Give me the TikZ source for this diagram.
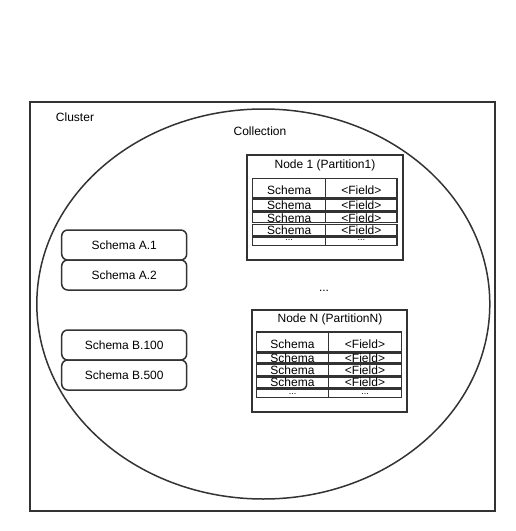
\documentclass[tikz,border=0pt]{standalone}
\usepackage{fontspec}
\setmainfont{Liberation Sans}
\usepackage{tikz}
\usetikzlibrary{shapes,calc}

\begin{document}
\begin{tikzpicture}[x=1pt,y=-1pt]
\tikzstyle{main}=[rectangle, draw=black!80, line width=1.5pt, inner sep=0pt, font=\fontsize{12}{14}\selectfont]
\tikzstyle{rect}=[main, minimum width=125pt, minimum height=30pt, rounded corners=6pt, node distance=30pt]
\tikzstyle{box}=[main, line width=2pt]
\tikzstyle{cell}=[main, line width=1.1pt, text depth=0pt]
\tikzstyle{dotcell}=[cell, font=\fontsize{9}{10}\selectfont]
\tikzstyle{plain}=[inner sep=0pt, font=\fontsize{12}{14}\selectfont]

\useasboundingbox (0,0) rectangle (515,531);

  \node[box, minimum width=465pt, minimum height=409.5pt] (cluster) at (262.5,306.25) {};
  \node[plain] (clustertxt) at (75,117) {Cluster};

  \node[main, ellipse, minimum width=453pt, minimum height=390pt] (coll) at (263.3,304) {};
  \node[plain] (colltxt) at (260,131) {Collection};

  \node[rect] (schemaA1) at (124.2,245)      {Schema A.1};
  \node[rect] (schemaA2) [below of=schemaA1] {Schema A.2};
  \node[rect] (schemaB1) at (124.2,345)      {Schema B.100};
  \node[rect] (schemaB2) [below of=schemaB1] {Schema B.500};

  % node 1
  \node[box, minimum width=156pt, minimum height=105pt] (nodeone) at (325,207.5) {};
  \node[plain] (titleone) at (325,165.5) {Node 1 (Partition1)};

  \node[cell, minimum width=73pt, minimum height=19.3pt, text height=11.9pt]    (s11) at (289.2,188.35)  {Schema};
  \node[cell, minimum width=71.3pt, minimum height=19.3pt, text height=11.9pt]  (f11) at (361.35,188.35) {<Field>};
  \node[cell, minimum width=73pt, minimum height=11.7pt, text height=8.3pt]     (s12) at (289.2,205.15)  {Schema};
  \node[cell, minimum width=71.3pt, minimum height=11.7pt, text height=8.3pt]   (f12) at (361.35,205.15) {<Field>};
  \node[cell, minimum width=73pt, minimum height=10pt, text height=10pt]        (s13) at (289.2,217.7)   {Schema};
  \node[cell, minimum width=71.3pt, minimum height=10pt, text height=10pt]      (f13) at (361.35,217.7)  {<Field>};
  \node[cell, minimum width=73pt, minimum height=10.6pt, text height=8.6pt]     (s14) at (289.2,230)     {Schema};
  \node[cell, minimum width=71.3pt, minimum height=10.6pt, text height=8.6pt]   (f14) at (361.35,230)    {<Field>};
  \node[dotcell, minimum width=73pt, minimum height=8.3pt, text height=0pt, text depth=2pt]   (s15) at (289.2,241.15)  {...};
  \node[dotcell, minimum width=71.3pt, minimum height=8.3pt, text height=0pt, text depth=2pt] (f15) at (361.35,241.15) {...};

  \node[plain] (gap) at (324,291) {...};

  % node N
  \node[box, minimum width=155pt, minimum height=101.7pt] (nodeN) at (329.2,360.85) {};
  \node[plain] (titleN) at (330,319.5) {Node N (PartitionN)};

  \node[cell, minimum width=71.6pt, minimum height=19.3pt, text height=12.7pt] (sN1) at (292.5,341.65) {Schema};
  \node[cell, minimum width=73.4pt, minimum height=19.3pt, text height=12.7pt] (fN1) at (365,341.65)   {<Field>};
  \node[cell, minimum width=71.6pt, minimum height=10pt, text height=9pt]      (sN2) at (292.5,358)    {Schema};
  \node[cell, minimum width=73.4pt, minimum height=10pt, text height=9pt]      (fN2) at (365,358)      {<Field>};
  \node[cell, minimum width=71.6pt, minimum height=11pt, text height=8.6pt]    (sN3) at (292.5,370.2)  {Schema};
  \node[cell, minimum width=73.4pt, minimum height=11pt, text height=8.6pt]    (fN3) at (365,370.2)    {<Field>};
  \node[cell, minimum width=71.6pt, minimum height=10.3pt, text height=8.3pt]  (sN4) at (292.5,382.15) {Schema};
  \node[cell, minimum width=73.4pt, minimum height=10.3pt, text height=8.3pt]  (fN4) at (365,382.15)   {<Field>};
  \node[dotcell, minimum width=71.6pt, minimum height=8.3pt, text height=3.1pt] (sN5) at (292.5,393.15) {...};
  \node[dotcell, minimum width=73.4pt, minimum height=8.3pt, text height=3.1pt] (fN5) at (365,393.15)   {...};

\end{tikzpicture}
\end{document}
